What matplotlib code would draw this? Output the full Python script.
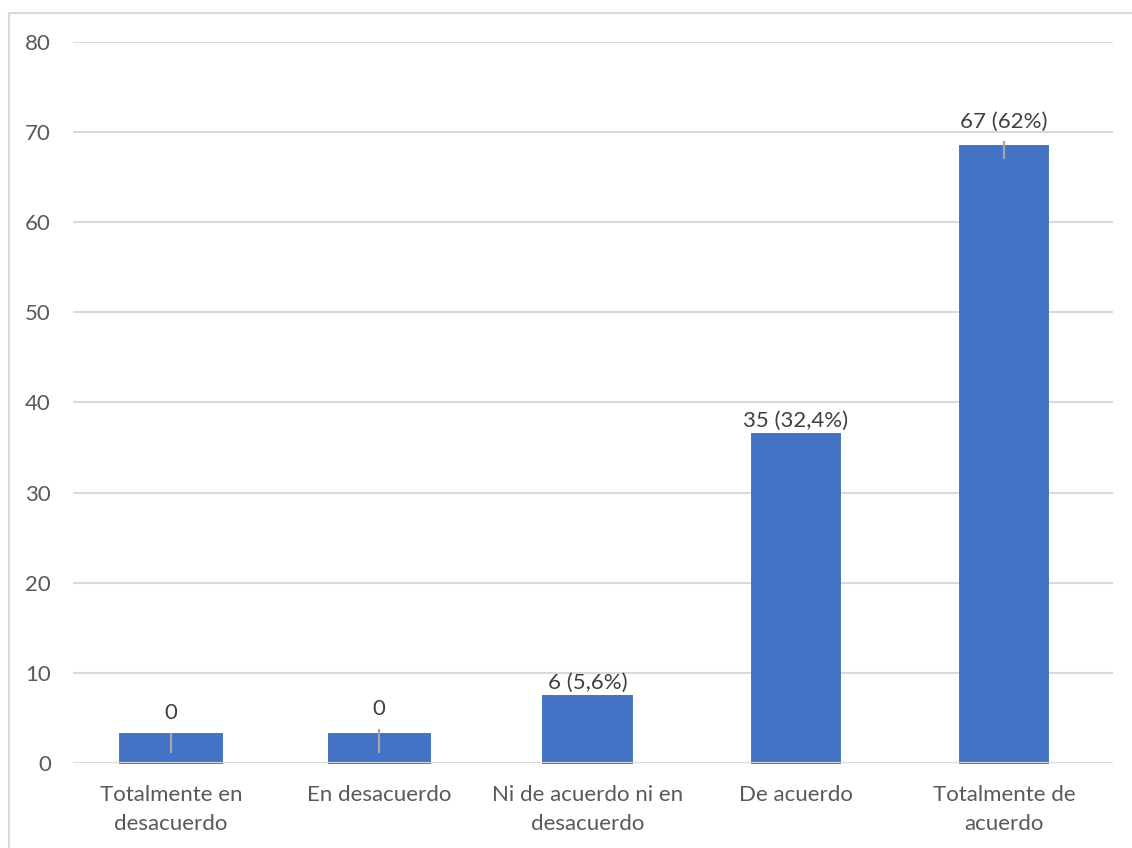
import matplotlib
matplotlib.use("Agg")
import matplotlib.pyplot as plt
from matplotlib.patches import Rectangle

# Survey responses
categories = [
    "Totalmente en\ndesacuerdo",
    "En desacuerdo",
    "Ni de acuerdo ni en\ndesacuerdo",
    "De acuerdo",
    "Totalmente de\nacuerdo",
]
bar_heights = [3.2, 3.2, 7.45, 36.5, 68.5]
value_labels = ["0", "0", "6 (5,6%)", "35 (32,4%)", "67 (62%)"]
err_low = [1.1, 1.1, None, None, 67.0]
err_high = [3.35, 3.75, None, None, 69.0]
y_ticks = [0, 10, 20, 30, 40, 50, 60, 70, 80]

BLUE = "#4472C4"
GRID = "#D9D9D9"
TEXT = "#595959"
LABEL = "#404040"
FS = 16

plt.rcParams["font.family"] = ["Lato", "DejaVu Sans"]

W, H = 1132, 848
fig = plt.figure(figsize=(W / 100, H / 100), dpi=100)

# chart-area frame (continues past the right and bottom edges)
fig.patches.append(Rectangle((8.5 / W, -0.1), 1.2, (H - 12.5) / H + 0.1,
                             transform=fig.transFigure, fill=False,
                             edgecolor=GRID, linewidth=1.5))

ax = fig.add_axes([73 / W, (H - 763) / H, (1113 - 73) / W, (763 - 42) / H])

x = list(range(len(categories)))
widths = [0.486, 0.486, 0.423, 0.423, 0.423]
ax.bar(x, bar_heights, width=widths, color=BLUE, edgecolor=BLUE,
       linewidth=1.4, zorder=2, clip_on=False)

for xi, lo, hi in zip(x, err_low, err_high):
    if lo is not None:
        ax.vlines(xi, lo, hi, color="#A5A5A5", linewidth=1.6, zorder=3)

for xi, h, hi, lab in zip(x, bar_heights, err_high, value_labels):
    top = h if hi is None else max(h, hi)
    off = 2.5 if hi is None else 7
    ax.annotate(lab, (xi, top), xytext=(0, off), textcoords="offset points",
                ha="center", va="bottom", fontsize=FS, color=LABEL)

ax.set_xlim(-0.471, 4.524)
ax.set_ylim(0, 80)
ax.set_yticks(y_ticks)
ax.set_xticks(x)
ax.set_xticklabels(categories, fontsize=FS, color=TEXT, linespacing=1.55)
ax.tick_params(axis="y", length=0, pad=16, labelsize=FS, labelcolor=TEXT)
ax.tick_params(axis="x", length=0, pad=16)
ax.yaxis.grid(True, color=GRID, linewidth=1.5, zorder=0)
ax.set_axisbelow(True)
# baseline drawn over the bars
ax.axhline(0, color=GRID, linewidth=1.5, zorder=4)
for s in ax.spines.values():
    s.set_visible(False)

fig.savefig("out.png", dpi=100)
